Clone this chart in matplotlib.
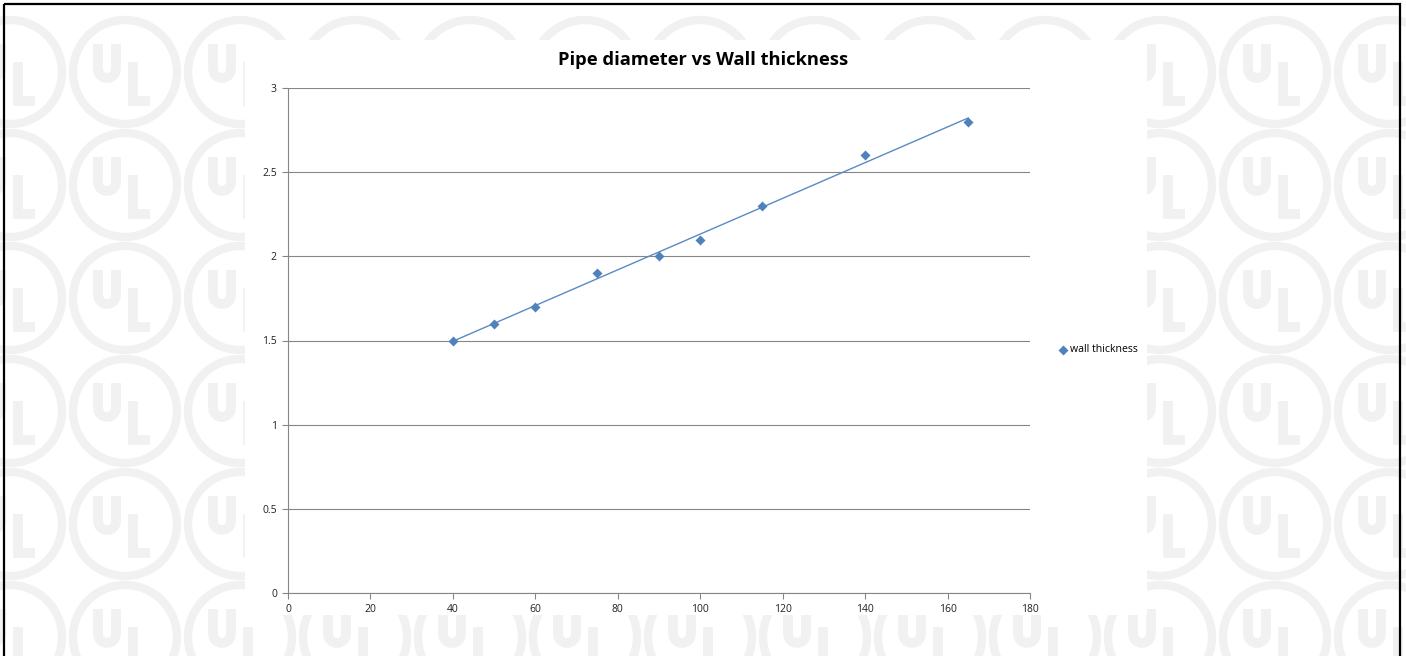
import numpy as np
import matplotlib.pyplot as plt
from matplotlib.patches import Rectangle, Circle, Arc

# pipe diameter (x) and wall thickness (y)
diameter = [40, 50, 60, 75, 90, 100, 115, 140, 165]
thickness = [1.5, 1.6, 1.7, 1.9, 2.0, 2.1, 2.3, 2.6, 2.8]
x_ticks = [0, 20, 40, 60, 80, 100, 120, 140, 160, 180]
y_ticks = [0, 0.5, 1, 1.5, 2, 2.5, 3]

W, H = 1406, 656
BLUE = '#4f81bd'
GRID = '#868686'
WM = '#f1f1f1'

fig = plt.figure(figsize=(W / 100, H / 100), dpi=100)
fig.patch.set_facecolor('white')

# background layer in pixel coordinates (watermark + chart area + frame)
bg = fig.add_axes([0, 0, 1, 1], zorder=0)
bg.set_xlim(0, W)
bg.set_ylim(H, 0)
bg.axis('off')

lw = 6
for cy in np.arange(72, H + 120, 113):
    for cx in np.arange(10, W + 120, 115):
        bg.add_patch(Circle((cx, cy), 52, fill=False, ec=WM, lw=lw))
        # "U"
        bg.plot([cx - 27, cx - 27], [cy - 28, cy - 3], color=WM, lw=lw + 1, solid_capstyle='butt')
        bg.plot([cx - 9, cx - 9], [cy - 28, cy - 3], color=WM, lw=lw + 1, solid_capstyle='butt')
        bg.add_patch(Arc((cx - 18, cy - 3), 18, 18, theta1=0, theta2=180, ec=WM, lw=lw + 1))
        # "L"
        bg.plot([cx + 8, cx + 8, cx + 25], [cy - 10, cy + 29, cy + 29], color=WM, lw=lw + 1,
                solid_joinstyle='miter', solid_capstyle='butt')

bg.add_patch(Rectangle((245, 40), 902, 575, fc='white', ec='none', zorder=5))
bg.add_patch(Rectangle((4, 4), 1396, 700, fill=False, ec='black', lw=1.6, zorder=6))

# main chart
ax = fig.add_axes([288 / W, 1 - 593 / H, (1030 - 288) / W, (593 - 88) / H], zorder=2)
ax.set_facecolor('none')

slope, intercept = np.polyfit(diameter, thickness, 1)
xs = np.array([min(diameter), max(diameter)])
ax.plot(xs, slope * xs + intercept, color='#5a8ac6', lw=1.0, zorder=3)
ax.scatter(diameter, thickness, marker='D', s=26, color=BLUE, zorder=4, label='wall thickness',
           linewidths=0)

ax.set_xlim(0, 180)
ax.set_ylim(0, 3)
ax.set_xticks(x_ticks)
ax.set_yticks(y_ticks)
ax.set_yticklabels(['0', '0.5', '1', '1.5', '2', '2.5', '3'])
ax.yaxis.grid(True, color=GRID, lw=0.8)
ax.set_axisbelow(True)
for s in ['top', 'right']:
    ax.spines[s].set_visible(False)
for s in ['left', 'bottom']:
    ax.spines[s].set_color(GRID)
    ax.spines[s].set_linewidth(0.8)
ax.tick_params(axis='both', colors=GRID, length=4, width=0.8, labelsize=7.5,
               labelcolor='#222222', pad=4)
for lab in ax.get_xticklabels() + ax.get_yticklabels():
    lab.set_family('Open Sans')

fig.text(703 / W, 1 - 60 / H, 'Pipe diameter vs Wall thickness', ha='center', va='center',
         fontsize=13.2, fontweight='bold', family='Open Sans', color='black')

ax.legend(loc='center left', bbox_to_anchor=(1059 / W, 1 - 350 / H), bbox_transform=fig.transFigure,
          frameon=False, borderpad=0, borderaxespad=0, handlelength=0.8, handletextpad=0.25,
          prop={'family': 'Open Sans', 'size': 7.6}, scatterpoints=1)

fig.savefig('out.png', dpi=100)
